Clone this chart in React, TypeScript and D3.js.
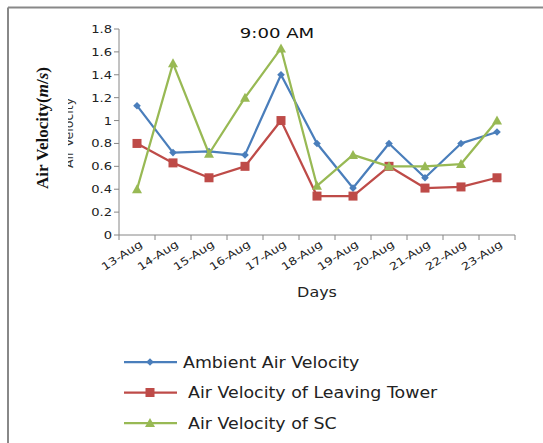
import React from "react";
import * as d3 from "d3";

const days = ["13-Aug","14-Aug","15-Aug","16-Aug","17-Aug","18-Aug","19-Aug","20-Aug","21-Aug","22-Aug","23-Aug"];
const ambient = [1.13,0.72,0.73,0.70,1.40,0.80,0.41,0.80,0.50,0.80,0.90];
const leaving = [0.80,0.63,0.50,0.60,1.00,0.34,0.34,0.60,0.41,0.42,0.50];
const sc = [0.40,1.50,0.71,1.20,1.63,0.43,0.70,0.60,0.60,0.62,1.00];
const yTicks = [0,0.2,0.4,0.6,0.8,1,1.2,1.4,1.6,1.8];
const seriesNames = ["Ambient Air Velocity","Air Velocity of Leaving Tower","Air Velocity of SC"];
const colors = ["#4a7ebb","#be4b48","#98b954"];

const W = 543, H = 443;
const font = "'DejaVu Sans', Verdana, sans-serif";

function Marker({ kind, x, y, color }: { kind: number; x: number; y: number; color: string }) {
  if (kind === 0) {
    const s = 3.8;
    return <path d={`M${x},${y - s}L${x + s},${y}L${x},${y + s}L${x - s},${y}Z`} fill={color} />;
  }
  if (kind === 1) {
    const s = 4.5;
    return <rect x={x - s} y={y - s} width={2 * s} height={2 * s} fill={color} />;
  }
  const s = 5;
  return <path d={`M${x},${y - s}L${x + s},${y + s * 0.8}L${x - s},${y + s * 0.8}Z`} fill={color} />;
}

export default function App() {
  const x = d3.scaleBand<string>().domain(days).range([119, 515]);
  const y = d3.scaleLinear().domain([0, 1.8]).range([235, 29]);
  const cx = (d: string) => (x(d) as number) + x.bandwidth() / 2;
  const line = d3.line<number>().x((_, i) => cx(days[i])).y((v) => y(v));
  const data = [ambient, leaving, sc];
  const tickXs = days.map((d) => x(d) as number).concat([515]);

  return (
    <svg width={W} height={H} style={{ position: "absolute", left: 0, top: 0, background: "#fff" }}>
      <defs>
        <clipPath id="halfclip" clipPathUnits="userSpaceOnUse">
          <rect x={68} y={0} width={30} height={H} />
        </clipPath>
      </defs>
      <rect x={0} y={0} width={W} height={H} fill="#fff" />
      <line x1={8} y1={7.5} x2={W} y2={7.5} stroke="#888" strokeWidth={2} />
      <line x1={8} y1={7.5} x2={8} y2={H} stroke="#888" strokeWidth={2} />

      {/* title */}
      <g transform="translate(277,38) scale(1.25,1)">
        <text x={0} y={0} textAnchor="middle" fontFamily={font} fontSize={14.5} fill="#111">9:00 AM</text>
      </g>

      {/* y axis */}
      <line x1={119} y1={y(0)} x2={119} y2={y(1.8)} stroke="#868686" strokeWidth={1} />
      {yTicks.map((t) => (
        <g key={t}>
          <line x1={114} x2={119} y1={y(t)} y2={y(t)} stroke="#868686" />
          <g transform={`translate(112,${y(t) + 4}) scale(1.25,1)`}>
            <text x={0} y={0} textAnchor="end" fontFamily={font} fontSize={10.5} fill="#222">{String(t)}</text>
          </g>
        </g>
      ))}

      {/* x axis */}
      <line x1={119} x2={515} y1={y(0)} y2={y(0)} stroke="#868686" />
      {tickXs.map((t, i) => (
        <line key={i} x1={t} x2={t} y1={y(0)} y2={y(0) + 5} stroke="#868686" />
      ))}
      {days.map((d) => (
        <text key={d} transform={`translate(${cx(d) + 6},${y(0) + 11}) rotate(-33)`} textAnchor="end" fontFamily={font} fontSize={10.5} fill="#222" textLength={46} lengthAdjust="spacingAndGlyphs">{d}</text>
      ))}
      <g transform="translate(317,297) scale(1.1,1)">
        <text x={0} y={0} textAnchor="middle" fontFamily={font} fontSize={14.5} fill="#222">Days</text>
      </g>

      {/* y title */}
      <g clipPath="url(#halfclip)">
        <text transform={`translate(73,133) rotate(-90)`} textAnchor="middle" fontFamily={font} fontSize={12.5} fill="#333">Air Velocity</text>
      </g>
      <text transform={`translate(48,128) rotate(-90)`} textAnchor="middle" fontFamily="'Liberation Serif', 'Times New Roman', serif" fontSize={17} fontWeight="bold" fill="#111">
        Air Velocity(<tspan fontStyle="italic">m</tspan>/<tspan fontStyle="italic">s</tspan>)
      </text>

      {/* series */}
      {data.map((s, si) => (
        <g key={si}>
          <path d={line(s) || ""} fill="none" stroke={colors[si]} strokeWidth={2.25} strokeLinejoin="round" />
          {s.map((v, i) => (
            <Marker key={i} kind={si} x={cx(days[i])} y={y(v)} color={colors[si]} />
          ))}
        </g>
      ))}

      {/* legend */}
      {seriesNames.map((n, i) => {
        const ly = 362 + i * 30.5;
        return (
          <g key={n}>
            <line x1={124} x2={177} y1={ly} y2={ly} stroke={colors[i]} strokeWidth={2.25} />
            <Marker kind={i} x={150} y={ly} color={colors[i]} />
            <g transform={`translate(${i === 0 ? 183 : 188},${ly + 5.5}) scale(1.16,1)`}>
              <text x={0} y={0} fontFamily={font} fontSize={15} fill="#222">{n}</text>
            </g>
          </g>
        );
      })}
    </svg>
  );
}
